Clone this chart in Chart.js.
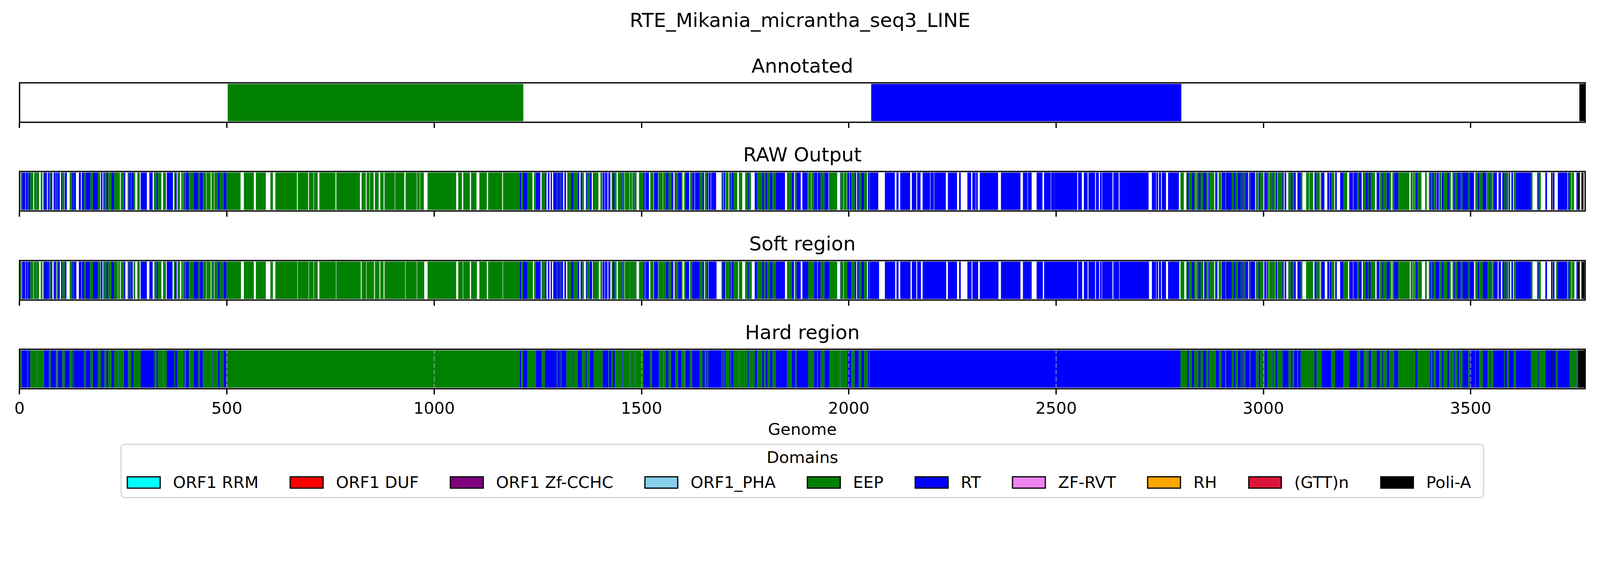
<!DOCTYPE html>
<html>
<head>
<meta charset="utf-8">
<title>RTE_Mikania_micrantha_seq3_LINE</title>
<script src="https://cdn.jsdelivr.net/npm/chart.js@4"></script>
<style>
  html, body { margin: 0; padding: 0; background: #fff; }
  body { width: 100vw; height: 1500px; position: relative; overflow: hidden; font-family: "DejaVu Sans", sans-serif; color: #000; }
  canvas { position: absolute; left: 0; }
  #suptitle { position: absolute; left: 0; width: 100%; top: 22px; text-align: center; font-size: 50px; line-height: 60px; }
  #legend { position: absolute; left: 50.15%; transform: translateX(-50%); top: 1136px; width: 3491px; height: 139px; box-sizing: border-box; border: 3.33px solid #d6d6d6; border-radius: 10px; }
  #legendTitle { position: absolute; left: 0; right: 0; top: 7px; text-align: center; font-size: 41.67px; line-height: 50px; }
  #legendRow { position: absolute; left: 13px; top: 71px; display: flex; white-space: nowrap; font-size: 41.67px; line-height: 50px; }
  .item { display: flex; align-items: center; margin-right: 80px; }
  .patch { width: 86.6px; height: 32.5px; box-sizing: border-box; border: 3.33px solid #000; margin-right: 31.4px; }
</style>
</head>
<body>
<div id="suptitle"></div>
<canvas id="annotated" height="190" style="top:143px"></canvas>
<canvas id="rawOutput" height="190" style="top:370px"></canvas>
<canvas id="softRegion" height="190" style="top:598px"></canvas>
<canvas id="hardRegion" height="302" style="top:825px"></canvas>
<div id="legend"><div id="legendTitle"></div><div id="legendRow"></div></div>
<script>
var figureTitle = "RTE_Mikania_micrantha_seq3_LINE";
var genomeLength = 3776;
var tickValues = [0, 500, 1000, 1500, 2000, 2500, 3000, 3500];
var legendTitle = "Domains";
var domainNames = ["ORF1 RRM", "ORF1 DUF", "ORF1 Zf-CCHC", "ORF1_PHA", "EEP", "RT", "ZF-RVT", "RH", "(GTT)n", "Poli-A"];
var domainColors = ["#00ffff", "#ff0000", "#800080", "#87ceeb", "#008000", "#0000ff", "#ee82ee", "#ffa500", "#dc143c", "#000000"];

// annotated regions
var annotatedEEP = [[502,1215]];
var annotatedRT = [[2054,2802]];
var annotatedPoliA = [[3762,3776]];

// raw output
var rawEEP = [[3,6],[20,21],[26,33],[35,41],[42,47],[51,55],[57,59],[71,75],[87,88],[91,92],[103,108],[121,127],[130,131],[156,160],[171,177],[189,194],[205,210],[214,215],[215,221],[228,238],[238,242],[244,251],[263,264],[269,270],[275,279],[284,290],[324,330],[334,342],[346,353],[373,375],[381,387],[390,394],[398,401],[408,410],[411,420],[431,435],[442,450],[451,461],[464,469],[470,478],[483,488],[489,492],[499,533],[541,565],[570,594],[605,611],[617,669],[671,696],[698,709],[710,719],[723,762],[764,821],[825,835],[837,844],[845,854],[857,866],[870,878],[880,905],[906,928],[931,958],[959,965],[966,975],[984,1053],[1058,1067],[1070,1086],[1089,1102],[1109,1127],[1130,1164],[1166,1206],[1210,1214],[1225,1237],[1241,1245],[1259,1267],
  [1296,1297],[1301,1302],[1305,1306],[1321,1330],[1336,1346],[1357,1361],[1368,1375],[1385,1396],[1401,1405],[1428,1431],[1435,1440],[1443,1453],[1455,1459],[1460,1471],[1472,1477],[1478,1483],[1484,1488],[1494,1504],[1521,1529],[1541,1551],[1552,1559],[1565,1571],[1582,1588],[1596,1599],[1603,1606],[1617,1622],[1640,1647],[1653,1658],[1693,1695],[1703,1710],[1715,1718],[1722,1731],[1735,1743],[1750,1757],[1759,1764],[1779,1791],[1796,1799],[1803,1810],[1816,1817],[1817,1824],[1851,1857],[1857,1862],[1870,1874],[1902,1909],[1910,1916],
  [1932,1941],[1952,1967],[1967,1972],[1980,1987],[1988,1995],[2006,2014],[2024,2030],[2037,2044],[2049,2051],
  [2800,2808],[2814,2816],[2820,2827],[2833,2837],[2838,2843],[2848,2854],[2862,2866],[2870,2881],[2883,2885],[2892,2898],[2908,2910],[2924,2929],[2933,2938],[2945,2947],[2950,2951],[2954,2956],[2967,2968],[2982,2987],[2992,3000],[3009,3013],[3014,3022],[3024,3028],[3034,3046],[3060,3066],[3070,3074],[3090,3094],[3103,3110],[3111,3120],[3128,3136],
  [3138,3141],[3164,3171],[3193,3202],[3226,3230],[3242,3246],[3252,3254],[3259,3265],[3265,3269],[3281,3287],[3289,3297],[3303,3308],[3311,3315],[3325,3329],[3329,3352],[3355,3360],[3361,3365],[3372,3381],[3390,3394],[3399,3402],[3404,3407],[3411,3415],[3424,3429],[3434,3443],[3448,3452],[3456,3459],[3462,3468],[3476,3480],[3494,3498],[3511,3517],[3521,3529],[3539,3545],[3547,3553],[3581,3583],[3586,3591],[3604,3609],[3645,3649],[3660,3663],[3665,3669],[3734,3735],[3739,3743],[3744,3749],[3758,3759]];
var rawRT = [[6,14],[15,20],[21,26],[41,42],[59,66],[68,71],[75,79],[82,87],[88,91],[92,97],[100,103],[109,114],[127,130],[131,136],[143,148],[150,156],[160,171],[177,189],[196,200],[202,205],[210,214],[221,228],[251,255],[261,263],[264,269],[270,275],[292,307],[313,321],[330,334],[355,370],[375,379],[395,398],[401,408],[410,411],[420,431],[435,442],[463,464],[478,483],[488,489],[492,499],
  [1206,1210],[1214,1225],[1245,1256],[1267,1271],[1274,1278],[1281,1284],
  [1287,1296],[1297,1301],[1302,1305],[1306,1311],[1314,1318],[1330,1336],[1346,1350],[1353,1357],[1366,1368],[1375,1380],[1383,1385],[1406,1411],[1412,1418],[1420,1425],[1431,1435],[1453,1455],[1483,1484],[1504,1508],[1509,1518],[1530,1540],[1559,1565],[1571,1573],[1573,1577],[1580,1582],[1588,1596],[1606,1615],[1622,1628],[1629,1640],[1647,1651],[1658,1661],[1662,1667],[1668,1680],[1695,1697],[1698,1702],[1712,1715],[1718,1722],[1757,1759],[1773,1779],[1791,1796],[1799,1803],[1810,1816],[1824,1846],[1862,1868],[1874,1884],[1888,1901],[1916,1924],[1925,1932],
  [1941,1951],[1979,1980],[1996,2001],[2002,2006],[2014,2018],[2020,2024],[2030,2037],[2046,2049],[2051,2071],[2087,2111],[2115,2120],[2124,2148],[2152,2163],[2165,2173],[2178,2196],[2197,2205],[2206,2234],[2239,2261],[2266,2270],[2286,2295],[2298,2306],[2307,2311],[2316,2360],[2367,2414],[2420,2431],[2432,2441],[2453,2467],[2471,2487],[2488,2496],[2496,2551],[2553,2562],[2567,2576],
  [2578,2594],[2596,2603],[2606,2610],[2611,2636],[2638,2651],[2653,2723],[2731,2741],[2742,2746],[2748,2753],[2755,2765],[2770,2796],[2816,2820],[2827,2833],[2843,2848],[2854,2862],[2867,2870],[2885,2889],[2899,2908],[2910,2924],[2929,2933],[2938,2945],[2947,2950],[2951,2954],[2956,2963],[2965,2967],[2968,2980],[2988,2992],[3002,3007],[3007,3009],[3022,3024],[3029,3033],[3046,3049],[3051,3055],[3066,3070],[3074,3078],[3082,3090],[3123,3128],
  [3141,3147],[3154,3159],[3160,3164],[3173,3177],[3185,3193],[3207,3216],[3217,3226],[3230,3237],[3240,3242],[3246,3252],[3254,3259],[3273,3280],[3287,3289],[3297,3303],[3315,3317],[3317,3325],[3366,3372],[3402,3404],[3407,3411],[3415,3417],[3418,3423],[3430,3434],[3443,3448],[3459,3462],[3468,3472],[3472,3476],[3480,3494],[3498,3508],[3517,3521],[3529,3538],[3545,3547],[3554,3563],[3567,3573],[3576,3581],[3583,3586],[3592,3595],[3598,3602],[3609,3614],[3614,3645],[3663,3665],[3680,3684],[3698,3702],[3710,3733],[3735,3739],[3755,3758]];
var rawPoliA = [[3694,3697],[3759,3763],[3767,3772]];

// soft region
var softEEP = [[2,5],[19,20],[26,33],[34,41],[42,47],[51,55],[57,59],[71,75],[88,89],[90,93],[103,109],[121,127],[129,131],[156,160],[170,177],[189,195],[204,210],[214,215],[215,221],[228,237],[238,242],[244,251],[263,264],[268,269],[275,279],[284,290],[325,330],[334,342],[347,353],[372,375],[381,387],[390,394],[398,401],[408,410],[410,420],[431,435],[442,450],[451,461],[465,469],[470,478],[483,488],[489,492],[499,534],[541,565],[570,594],[605,611],[617,670],[671,697],[698,709],[710,719],[723,763],[764,823],[825,836],[837,855],[857,868],[870,878],[880,930],[931,958],[959,976],[984,1053],[1058,1069],[1070,1086],[1089,1103],[1109,1127],[1130,1165],[1166,1206],[1210,1214],[1225,1238],[1241,1245],[1259,1267],
  [1296,1297],[1301,1302],[1305,1306],[1321,1330],[1336,1346],[1357,1361],[1368,1375],[1385,1397],[1401,1405],[1428,1431],[1435,1440],[1443,1453],[1455,1459],[1460,1472],[1472,1484],[1485,1488],[1494,1504],[1521,1529],[1541,1552],[1552,1559],[1565,1571],[1582,1588],[1596,1599],[1603,1606],[1617,1622],[1640,1647],[1653,1658],[1693,1695],[1703,1712],[1715,1718],[1722,1733],[1735,1743],[1750,1757],[1759,1766],[1779,1791],[1796,1799],[1803,1810],[1816,1824],[1851,1857],[1857,1862],[1870,1874],[1902,1916],
  [1932,1941],[1953,1967],[1967,1972],[1980,1987],[1988,1996],[2006,2014],[2024,2030],[2037,2044],[2049,2051],
  [2800,2809],[2814,2816],[2820,2827],[2833,2837],[2838,2843],[2848,2855],[2862,2866],[2870,2881],[2883,2885],[2892,2898],[2908,2910],[2924,2929],[2933,2938],[2945,2947],[2950,2951],[2954,2956],[2967,2968],[2982,2988],[2992,3000],[3009,3013],[3014,3023],[3024,3028],[3034,3046],[3060,3066],[3070,3074],[3090,3094],[3103,3120],[3128,3136],
  [3138,3141],[3164,3171],[3193,3204],[3226,3230],[3242,3246],[3252,3254],[3259,3270],[3281,3287],[3289,3297],[3304,3309],[3311,3315],[3325,3329],[3329,3353],[3355,3360],[3361,3365],[3372,3382],[3390,3394],[3399,3402],[3404,3407],[3411,3415],[3424,3430],[3434,3443],[3448,3452],[3456,3459],[3462,3468],[3476,3480],[3494,3498],[3511,3517],[3521,3529],[3541,3545],[3547,3553],[3581,3583],[3586,3591],[3604,3609],[3645,3649],[3660,3663],[3665,3669],[3706,3710],[3734,3735],[3739,3743],[3744,3750],[3758,3759]];
var softRT = [[6,14],[15,19],[20,26],[41,42],[59,67],[67,71],[75,79],[82,88],[93,97],[100,103],[109,113],[127,129],[131,137],[143,149],[150,156],[160,170],[177,189],[196,200],[202,204],[210,214],[221,228],[251,255],[261,263],[264,268],[269,273],[292,307],[313,321],[330,334],[346,347],[355,369],[375,379],[395,398],[401,408],[420,431],[435,442],[463,465],[478,483],[488,489],[492,499],
  [1206,1210],[1214,1225],[1245,1257],[1267,1271],[1274,1278],[1281,1284],
  [1287,1296],[1297,1301],[1302,1305],[1306,1311],[1314,1318],[1330,1336],[1346,1350],[1353,1357],[1366,1368],[1375,1381],[1383,1385],[1406,1411],[1412,1418],[1420,1425],[1431,1435],[1453,1455],[1484,1485],[1504,1508],[1509,1518],[1530,1540],[1559,1565],[1571,1577],[1580,1582],[1588,1596],[1606,1615],[1622,1640],[1647,1651],[1658,1661],[1662,1681],[1695,1702],[1712,1715],[1718,1722],[1757,1759],[1773,1779],[1791,1796],[1799,1803],[1810,1816],[1824,1846],[1862,1868],[1874,1884],[1888,1902],[1916,1924],[1925,1932],
  [1941,1953],[1979,1980],[1996,2006],[2014,2018],[2020,2024],[2030,2037],[2046,2049],[2051,2073],[2087,2112],[2115,2120],[2124,2149],[2152,2163],[2165,2174],[2178,2235],[2239,2261],[2266,2270],[2286,2296],[2298,2312],[2316,2361],[2367,2414],[2420,2441],[2453,2468],[2471,2551],[2553,2563],[2567,2576],
  [2578,2594],[2596,2604],[2606,2610],[2611,2636],[2638,2652],[2653,2724],[2731,2741],[2742,2746],[2748,2753],[2755,2765],[2770,2797],[2816,2820],[2827,2833],[2843,2848],[2857,2862],[2867,2870],[2885,2889],[2899,2908],[2910,2924],[2929,2933],[2938,2945],[2947,2950],[2951,2954],[2956,2963],[2965,2967],[2968,2980],[2988,2992],[3002,3007],[3008,3009],[3023,3024],[3029,3033],[3046,3049],[3051,3055],[3066,3070],[3074,3078],[3082,3090],[3123,3128],
  [3141,3148],[3154,3159],[3160,3164],[3173,3177],[3185,3193],[3207,3216],[3217,3226],[3230,3237],[3240,3242],[3246,3252],[3254,3259],[3273,3280],[3287,3289],[3297,3304],[3315,3325],[3366,3372],[3402,3404],[3407,3411],[3415,3424],[3430,3434],[3443,3448],[3459,3462],[3468,3476],[3480,3494],[3498,3508],[3517,3521],[3529,3541],[3545,3547],[3554,3565],[3567,3573],[3576,3581],[3583,3586],[3592,3595],[3598,3602],[3609,3614],[3614,3645],[3663,3665],[3680,3684],[3698,3702],[3710,3733],[3735,3739],[3755,3758]];
var softPoliA = [[3694,3697],[3759,3763],[3767,3774]];

// hard region, no gaps between the segments
var hardEEP = [[2,5],[19,20],[26,42],[43,59],[71,75],[88,89],[90,93],[103,109],[121,128],[130,131],[156,160],[171,177],[189,196],[205,210],[214,221],[228,238],[239,251],[261,263],[264,269],[275,292],[325,330],[334,346],[347,355],[373,375],[381,395],[398,401],[408,410],[411,420],[431,435],[442,463],[465,478],[483,488],[489,492],[499,1206],[1210,1214],[1225,1245],[1260,1267],
  [1296,1297],[1301,1302],[1305,1306],[1318,1319],[1320,1334],[1335,1346],[1357,1366],[1368,1375],[1385,1406],[1420,1421],[1428,1431],[1436,1453],[1455,1472],[1473,1484],[1485,1504],[1521,1525],[1542,1553],[1554,1559],[1565,1571],[1582,1588],[1596,1603],[1604,1606],[1617,1622],[1640,1647],[1653,1656],[1658,1661],[1693,1695],[1698,1699],[1703,1712],[1715,1716],[1722,1735],[1736,1750],[1752,1757],[1759,1773],[1779,1791],[1796,1799],[1804,1810],[1816,1824],[1851,1857],[1858,1862],[1870,1874],[1902,1916],[1924,1925],
  [1932,1941],[1953,1967],[1968,1979],[1980,1996],[2006,2014],[2024,2030],[2037,2046],[2049,2051],
  [2800,2816],[2820,2827],[2833,2843],[2848,2854],[2862,2867],[2870,2885],[2893,2899],[2908,2910],[2924,2929],[2933,2938],[2945,2947],[2950,2951],[2954,2956],[2967,2968],[2982,2988],[2992,3002],[3009,3022],[3024,3029],[3034,3046],[3060,3066],[3070,3074],[3082,3083],[3090,3123],[3128,3141],
  [3164,3173],[3193,3207],[3226,3233],[3242,3247],[3248,3254],[3260,3273],[3281,3287],[3289,3297],[3303,3315],[3325,3366],[3372,3402],[3404,3407],[3411,3416],[3424,3430],[3434,3443],[3448,3459],[3462,3468],[3472,3480],[3494,3498],[3511,3512],[3521,3529],[3541,3545],[3547,3554],[3580,3582],[3588,3592],[3604,3609],[3645,3662],[3664,3680],[3706,3710],[3739,3755],[3756,3759]];
var hardRT = [[0,2],[5,19],[20,26],[42,43],[59,71],[75,88],[89,90],[93,103],[109,121],[128,130],[131,156],[160,171],[177,189],[196,205],[210,214],[221,228],[238,239],[251,261],[263,264],[269,275],[292,325],[330,334],[346,347],[355,373],[375,381],[395,398],[401,408],[410,411],[420,431],[435,442],[463,465],[478,483],[488,489],[492,499],[1206,1210],[1214,1225],[1245,1260],
  [1267,1296],[1297,1301],[1302,1305],[1306,1318],[1319,1320],[1334,1335],[1346,1357],[1366,1368],[1375,1385],[1406,1420],[1421,1428],[1431,1436],[1453,1455],[1472,1473],[1484,1485],[1504,1521],[1525,1542],[1553,1554],[1559,1565],[1571,1582],[1588,1596],[1603,1604],[1606,1617],[1622,1640],[1647,1653],[1656,1658],[1661,1693],[1695,1698],[1699,1703],[1712,1715],[1716,1722],[1735,1736],[1750,1752],[1757,1759],[1773,1779],[1791,1796],[1799,1804],[1810,1816],[1824,1851],[1857,1858],[1862,1870],[1874,1902],[1916,1924],[1925,1932],
  [1941,1953],[1967,1968],[1979,1980],[1996,2006],[2014,2024],[2030,2037],[2046,2049],[2051,2800],
  [2816,2820],[2827,2833],[2843,2848],[2854,2862],[2867,2870],[2885,2893],[2899,2908],[2910,2924],[2929,2933],[2938,2945],[2947,2950],[2951,2954],[2956,2967],[2968,2982],[2988,2992],[3002,3009],[3022,3024],[3029,3034],[3046,3060],[3066,3070],[3074,3082],[3083,3090],[3123,3128],
  [3141,3164],[3173,3193],[3207,3226],[3233,3242],[3247,3248],[3254,3260],[3273,3281],[3287,3289],[3297,3303],[3315,3325],[3366,3372],[3402,3404],[3407,3411],[3416,3424],[3430,3434],[3443,3448],[3459,3462],[3468,3472],[3480,3494],[3498,3511],[3512,3521],[3529,3541],[3545,3547],[3554,3580],[3582,3588],[3592,3604],[3609,3645],[3662,3664],[3680,3694],[3697,3706],[3710,3739],[3755,3756]];
var hardPoliA = [[3694,3697],[3759,3776]];

Chart.defaults.font.family = '"DejaVu Sans", sans-serif';
Chart.defaults.color = '#000';

// the window can be narrower than 4800, so the plots follow its width
var pageWidth = window.innerWidth;
var pageScale = pageWidth / 4800;

// black box round the plot area, like the spines
var frame = {
  id: 'frame',
  afterDraw: function(chart) {
    var a = chart.chartArea, c = chart.ctx;
    c.save();
    c.strokeStyle = '#000';
    c.lineWidth = 3.33;
    c.strokeRect(a.left, a.top, a.right - a.left, a.bottom - a.top);
    c.restore();
  }
};

function bars(label, pairs, color) {
  return {
    label: label,
    data: pairs.map(function(p) { return {x: p, y: 'row'}; }),
    backgroundColor: color,
    borderWidth: 0,
    inflateAmount: 0,
    barPercentage: 0.945,
    categoryPercentage: 1,
    grouped: false
  };
}

function panel(id, title, eep, rt, polia, isLast) {
  var canvas = document.getElementById(id);
  canvas.width = pageWidth;
  return new Chart(canvas, {
    type: 'bar',
    plugins: [frame],
    data: {
      labels: ['row'],
      datasets: [bars('EEP', eep, domainColors[4]), bars('RT', rt, domainColors[5]), bars('Poli-A', polia, domainColors[9])]
    },
    options: {
      indexAxis: 'y',
      responsive: false,
      devicePixelRatio: 1,
      animation: false,
      layout: {padding: {left: 58.7 * pageScale, right: 44.5 * pageScale}},
      plugins: {
        legend: {display: false},
        tooltip: {enabled: false},
        title: {display: true, fullSize: false, text: title, color: '#000', font: {size: 50, weight: 'normal', lineHeight: 1.2}, padding: {top: 0, bottom: 9}}
      },
      scales: {
        y: {display: false},
        x: {
          type: 'linear',
          min: 0,
          max: genomeLength,
          border: {display: false, dash: [12.3, 5.3]},
          grid: {
            drawOnChartArea: isLast,
            z: 1,
            color: 'rgba(176,176,176,0.55)',
            lineWidth: 3.33,
            tickColor: '#000',
            tickWidth: 3.33,
            tickLength: 14.6,
            tickBorderDash: []
          },
          ticks: {
            display: isLast,
            autoSkip: false,
            maxRotation: 0,
            padding: 14,
            color: '#000',
            font: {size: 41.67},
            callback: function(v) { return String(v); }
          },
          afterBuildTicks: function(scale) {
            scale.ticks = tickValues.map(function(v) { return {value: v}; });
          },
          title: {display: isLast, text: 'Genome', color: '#000', font: {size: 41.67}, padding: 0},
          afterFit: function(scale) { scale.height = isLast ? 132 : 20; }
        }
      }
    }
  });
}

document.getElementById('suptitle').textContent = figureTitle;
panel('annotated', 'Annotated', annotatedEEP, annotatedRT, annotatedPoliA, false);
panel('rawOutput', 'RAW Output', rawEEP, rawRT, rawPoliA, false);
panel('softRegion', 'Soft region', softEEP, softRT, softPoliA, false);
panel('hardRegion', 'Hard region', hardEEP, hardRT, hardPoliA, true);

document.getElementById('legendTitle').textContent = legendTitle;
var row = document.getElementById('legendRow');
domainNames.forEach(function(name, i) {
  var item = document.createElement('div');
  item.className = 'item';
  var patch = document.createElement('div');
  patch.className = 'patch';
  patch.style.background = domainColors[i];
  var text = document.createElement('span');
  text.textContent = name;
  item.appendChild(patch);
  item.appendChild(text);
  row.appendChild(item);
});
</script>
</body>
</html>
